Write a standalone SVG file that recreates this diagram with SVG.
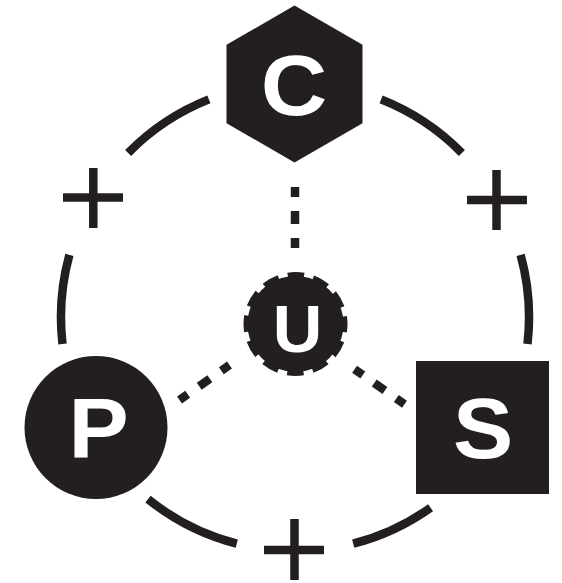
<svg xmlns="http://www.w3.org/2000/svg" width="562" height="583" viewBox="0 0 562 583">
<style>
.ink{fill:#231f20}
.arc{fill:none;stroke:#231f20;stroke-width:8.5;stroke-linecap:butt}
.dot{fill:none;stroke:#231f20;stroke-width:8.5;stroke-dasharray:10 14 13 14 10}
.plus{fill:none;stroke:#231f20;stroke-width:8.5}
.lbl{fill:#ffffff;font-family:"Liberation Sans",Arial,sans-serif;font-weight:bold;text-anchor:middle}
</style>
<rect width="562" height="583" fill="#ffffff"/>
<g id="connectors">
<path class="arc" d="M128.1,153.0 A234,234 0 0 1 208.9,99.4"/>
<path class="arc" d="M381.1,99.4 A234,234 0 0 1 461.9,153.0"/>
<path class="arc" d="M520.6,254.9 A234,234 0 0 1 527.5,343.9"/>
<path class="arc" d="M430.6,507.7 A234,234 0 0 1 353.2,543.7"/>
<path class="arc" d="M236.8,543.7 A234,234 0 0 1 148.0,499.1"/>
<path class="arc" d="M62.5,343.9 A234,234 0 0 1 69.4,254.9"/>
<path class="dot" d="M295,187 V248"/>
<path class="dot" d="M179.5,399.9 L229.5,365.1"/>
<path class="dot" d="M354.6,369.2 L404.5,404.2"/>
<path class="plus" d="M63,197.5 H123 M93.3,168 V228"/>
<path class="plus" d="M467,200 H527 M496.5,170 V230"/>
<path class="plus" d="M264,550 H324 M294.5,519 V580"/>
</g>
<g id="node-c">
<polygon class="ink" points="294.5,5.5 362.5,44.75 362.5,123.25 294.5,162.5 226.5,123.25 226.5,44.75"/>
<text class="lbl" transform="translate(294,115) scale(1.07,1)" font-size="86">C</text>
</g>
<g id="node-u">
<circle class="ink" cx="295.5" cy="324" r="48"/>
<circle cx="295.5" cy="324" r="49.5" fill="none" stroke="#231f20" stroke-width="5" stroke-dasharray="16.5 9.42" stroke-dashoffset="8.25"/>
<text class="lbl" transform="translate(297.5,352) scale(1.04,1)" font-size="66">U</text>
</g>
<g id="node-p">
<circle class="ink" cx="96" cy="427.5" r="71.5"/>
<text class="lbl" transform="translate(98.5,458) scale(1.05,1)" font-size="86">P</text>
</g>
<g id="node-s">
<rect class="ink" x="416" y="361" width="133" height="133"/>
<text class="lbl" transform="translate(483,458) scale(1.05,1)" font-size="86">S</text>
</g>
</svg>
